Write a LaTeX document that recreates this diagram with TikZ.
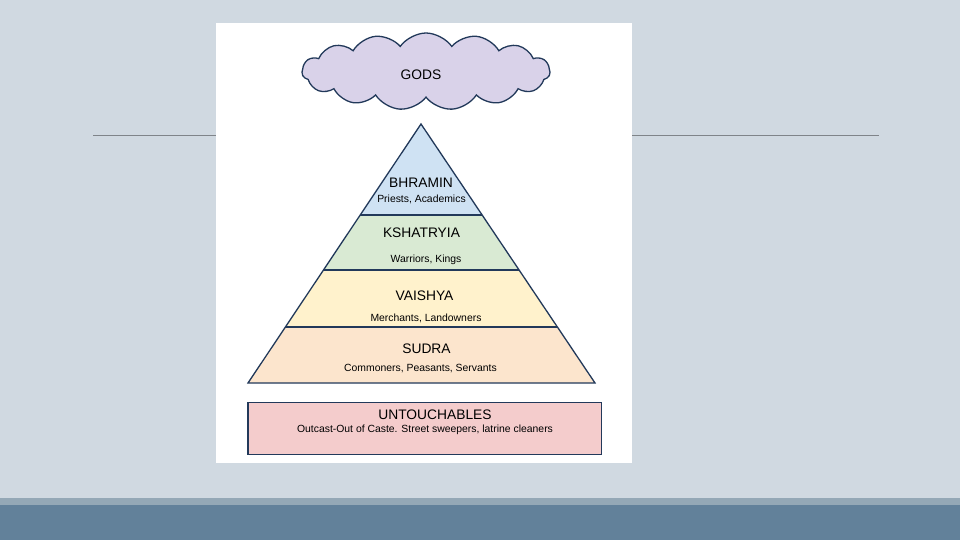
\documentclass[tikz,border=0pt]{standalone}
\usepackage{fontspec}
\setmainfont{Liberation Sans}
\usetikzlibrary{calc,positioning,shapes.symbols}
\definecolor{slide}{HTML}{D0D9E1}
\definecolor{band}{HTML}{62819A}
\definecolor{bandlight}{HTML}{94A8B6}
\definecolor{rule}{HTML}{7F8489}
\definecolor{edge}{HTML}{22395A}
\definecolor{godsfill}{HTML}{D9D2E9}
\definecolor{bhraminfill}{HTML}{CFE2F3}
\definecolor{kshatfill}{HTML}{D9EAD3}
\definecolor{vaishfill}{HTML}{FFF2CC}
\definecolor{sudrafill}{HTML}{FCE5CD}
\definecolor{outfill}{HTML}{F4CCCC}

\begin{document}
\begin{tikzpicture}[
          x=1pt, y=-1pt,
          tier/.style={draw=edge, line width=1.3pt, line join=miter},
          head/.style={font=\fontsize{13.8}{15}\selectfont, inner sep=0pt, anchor=base},
          sub/.style={font=\fontsize{10.4}{12}\selectfont, inner sep=0pt, anchor=base}
      ]
        % slide background
        \fill[slide] (0,0) rectangle (960,540);
        \useasboundingbox (0,0) rectangle (960,540);
        \fill[bandlight] (0,498) rectangle (960,505);
        \fill[band] (0,505) rectangle (960,540);
        \draw[rule, line width=1pt] (93,136) -- (879,136);
        \fill[white] (216,23) rectangle (632,463);

        % gods
        \node[cloud, cloud puffs=15, cloud puff arc=110, cloud ignores aspect, draw=edge, fill=godsfill, line width=1.3pt,
              minimum width=248pt, minimum height=77pt] (gods) at (426,71.5) {};
        \node[head] (godslbl) at (421,80) {GODS};

        % pyramid
        \coordinate (apex) at (421,124);
        \coordinate (bl) at (248,383);
        \coordinate (br) at (595,383);
        \coordinate (l1) at ($(apex)!0.351!(bl)$);
        \coordinate (r1) at ($(apex)!0.351!(br)$);
        \coordinate (l2) at ($(apex)!0.564!(bl)$);
        \coordinate (r2) at ($(apex)!0.564!(br)$);
        \coordinate (l3) at ($(apex)!0.784!(bl)$);
        \coordinate (r3) at ($(apex)!0.784!(br)$);
        \fill[bhraminfill] (apex) -- (r1) -- (l1) -- cycle;
        \fill[kshatfill] (l1) -- (r1) -- (r2) -- (l2) -- cycle;
        \fill[vaishfill] (l2) -- (r2) -- (r3) -- (l3) -- cycle;
        \fill[sudrafill] (l3) -- (r3) -- (br) -- (bl) -- cycle;
        \draw[tier] (l1) -- (r1);
        \draw[tier] (l2) -- (r2);
        \draw[tier] (l3) -- (r3);
        \draw[tier] (apex) -- (br) -- (bl) -- cycle;

        \node[head] (bhramin) at (421,187) {BHRAMIN};
        \node[sub] (bhraminsub) at (421.5,202) {Priests, Academics};
        \node[head] (kshat) at (421.5,237) {KSHATRYIA};
        \node[sub] (kshatsub) at (426,262) {Warriors, Kings};
        \node[head] (vaish) at (424.5,300) {VAISHYA};
        \node[sub] (vaishsub) at (426,321) {Merchants, Landowners};
        \node[head] (sudra) at (426.5,353) {SUDRA};
        \node[sub] (sudrasub) at (420.5,371) {Commoners, Peasants, Servants};

        % outcasts
        \draw[tier, fill=outfill] (248,402.5) rectangle (601.5,454.5);
        \node[head] (untouch) at (435,419) {UNTOUCHABLES};
        \node[sub] (untouchsub) at (425,432.5) {Outcast-Out of Caste. Street sweepers, latrine cleaners};
      \end{tikzpicture}
\end{document}
